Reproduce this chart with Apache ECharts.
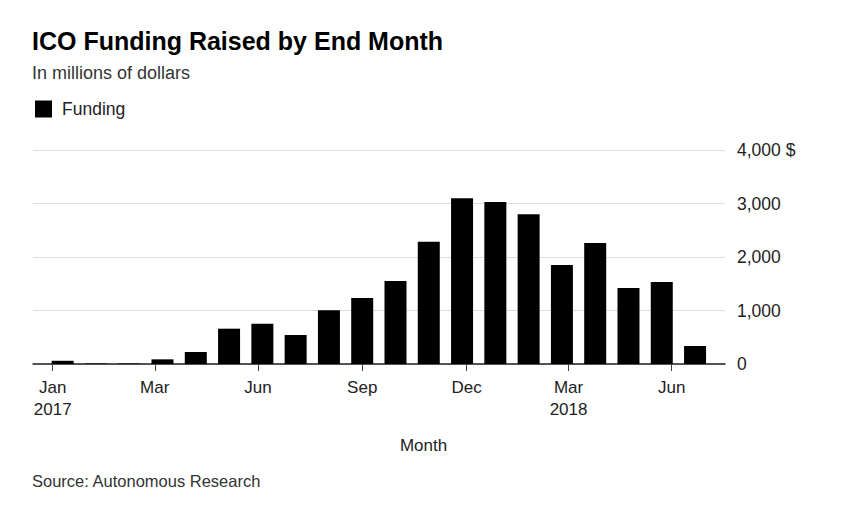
<!DOCTYPE html>
<html>
<head>
<meta charset="utf-8">
<script src="https://cdn.jsdelivr.net/npm/echarts@6/dist/echarts.min.js"></script>
<style>
  html, body { margin: 0; padding: 0; background: #fff; }
  #chart { width: 847px; height: 513px; }
</style>
</head>
<body>
<div id="chart"></div>
<script>
// Monthly ICO funding (millions of dollars), month-end values
const months = ['Dec 2016', 'Jan 2017', 'Feb 2017', 'Mar 2017', 'Apr 2017', 'May 2017', 'Jun 2017',
  'Jul 2017', 'Aug 2017', 'Sep 2017', 'Oct 2017', 'Nov 2017', 'Dec 2017', 'Jan 2018',
  'Feb 2018', 'Mar 2018', 'Apr 2018', 'May 2018', 'Jun 2018', 'Jul 2018'];
const funding = [60, 10, 10, 87, 224, 660, 754, 542, 1003, 1234, 1551, 2287,
  3097, 3028, 2798, 1850, 2262, 1420, 1533, 336];
// Date ticks: days counted from 1 Jan 2017
const tickDays = [0, 90, 181, 273, 365, 455, 546];
const tickLabels = ['Jan\n2017', 'Mar', 'Jun', 'Sep', 'Dec', 'Mar\n2018', 'Jun'];
const yTicks = [0, 1000, 2000, 3000, 4000];

const FONT = '"Liberation Sans", Arial, sans-serif';
const chart = echarts.init(document.getElementById('chart'), null, { renderer: 'svg' });

chart.setOption({
  animation: false,
  backgroundColor: '#fff',
  textStyle: { fontFamily: FONT },
  title: [
    { text: 'ICO Funding Raised by End Month', left: 32, top: 28, padding: 0,
      textStyle: { fontFamily: FONT, fontSize: 25, fontWeight: 'bold', color: '#000' } },
    { text: 'In millions of dollars', left: 32, top: 64, padding: 0,
      textStyle: { fontFamily: FONT, fontSize: 18, fontWeight: 'normal', color: '#333' } },
    { text: 'Month', left: 'center', top: 437, padding: 0,
      textStyle: { fontFamily: FONT, fontSize: 17, fontWeight: 'normal', color: '#222' } },
    { text: 'Source: Autonomous Research', left: 32, top: 472, padding: 0,
      textStyle: { fontFamily: FONT, fontSize: 16.5, fontWeight: 'normal', color: '#333' } }
  ],
  legend: {
    left: 35, top: 100, padding: 0, icon: 'rect', itemWidth: 17, itemHeight: 17, itemGap: 10,
    textStyle: { fontFamily: FONT, fontSize: 17.5, color: '#222', padding: [0, 0, 0, 5] },
    data: ['Funding']
  },
  grid: [
    { left: 33, right: 122, top: 150, bottom: 149 },
    { left: 46, right: 135.3, top: 150, bottom: 149 }
  ],
  xAxis: [
    {
      type: 'value', gridIndex: 0, min: -17.4, max: 593.0,
      axisLine: { show: true, lineStyle: { color: '#222', width: 1.5 } },
      axisTick: { show: true, length: 7, lineStyle: { color: '#444', width: 1 }, customValues: tickDays },
      axisLabel: {
        show: true, customValues: tickDays, margin: 12, lineHeight: 22,
        fontFamily: FONT, fontSize: 17, color: '#222',
        formatter: function (v) {
          const i = tickDays.indexOf(Math.round(v));
          return i >= 0 ? tickLabels[i] : '';
        }
      },
      splitLine: { show: false }
    },
    {
      type: 'category', gridIndex: 1, data: months, boundaryGap: true,
      axisLine: { show: false }, axisTick: { show: false }, axisLabel: { show: false },
      splitLine: { show: false }
    }
  ],
  yAxis: [
    {
      type: 'value', gridIndex: 0, position: 'right', min: 0, max: 4000, interval: 1000,
      axisLine: { show: false }, axisTick: { show: false },
      splitLine: { show: true, lineStyle: { color: '#ddd', width: 1.2 } },
      axisLabel: {
        margin: 12, fontFamily: FONT, fontSize: 17.5, color: '#222',
        formatter: function (v) {
          const s = v.toLocaleString('en-US');
          return v === yTicks[yTicks.length - 1] ? s + ' $' : s;
        }
      }
    },
    {
      type: 'value', gridIndex: 1, min: 0, max: 4000, interval: 1000,
      axisLine: { show: false }, axisTick: { show: false },
      axisLabel: { show: false }, splitLine: { show: false }
    }
  ],
  series: [
    {
      name: 'Funding', type: 'bar', xAxisIndex: 1, yAxisIndex: 1,
      data: funding, barWidth: 22, itemStyle: { color: '#000' }, z: 3
    }
  ]
});
</script>
</body>
</html>
